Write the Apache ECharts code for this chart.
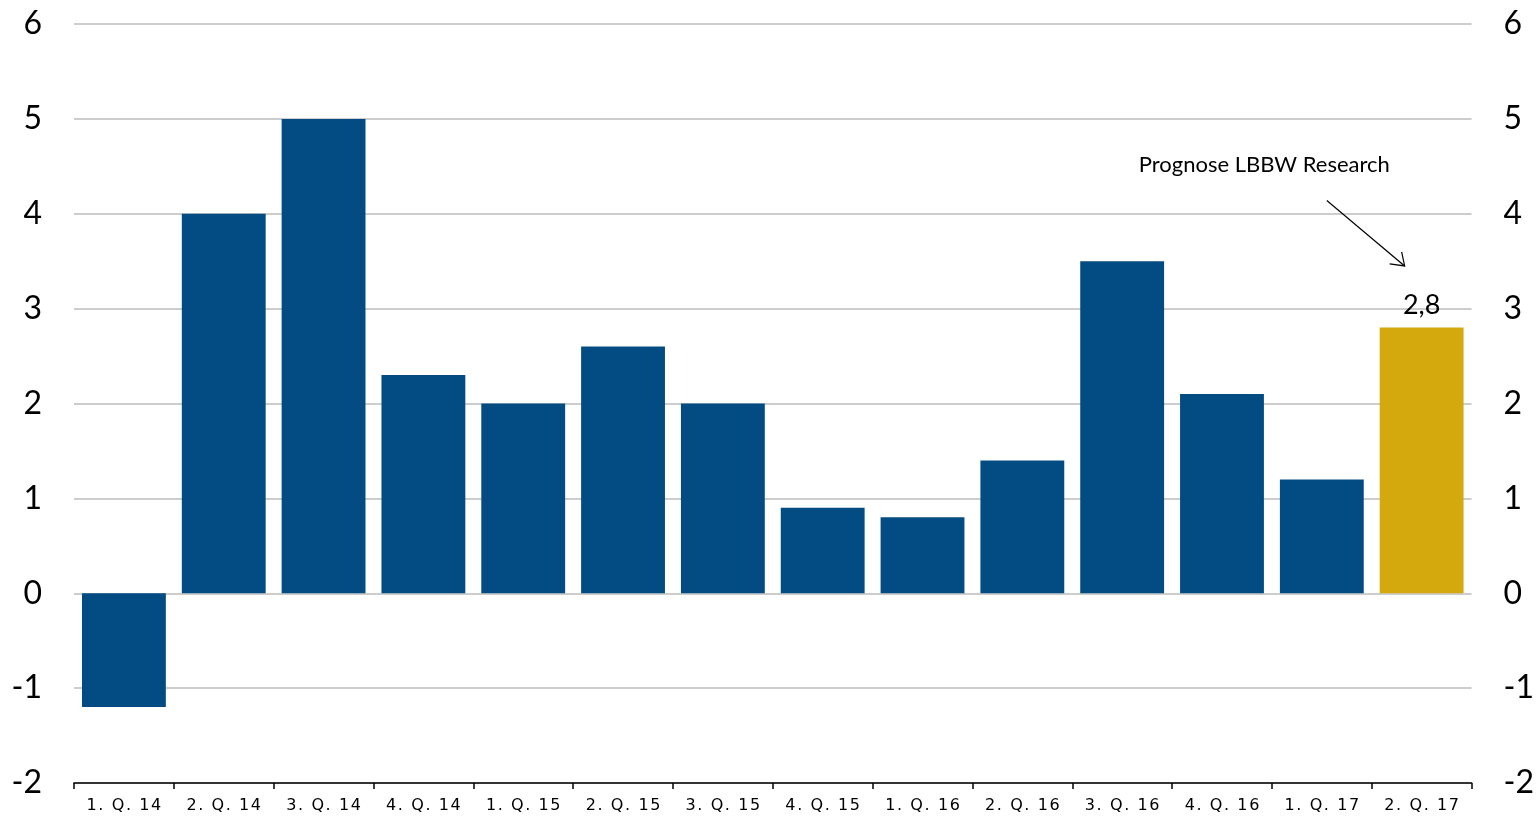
<!DOCTYPE html>
<html>
<head>
<meta charset="utf-8">
<script src="https://cdn.jsdelivr.net/npm/echarts@6/dist/echarts.min.js"></script>
<style>
  html, body { margin: 0; padding: 0; background: #fff; }
  #chart { width: 1537px; height: 819px; }
</style>
</head>
<body>
<div id="chart"></div>
<script>
// Quarterly growth, last quarter is a forecast
const quarters = ['1. Q. 14', '2. Q. 14', '3. Q. 14', '4. Q. 14', '1. Q. 15', '2. Q. 15', '3. Q. 15',
                  '4. Q. 15', '1. Q. 16', '2. Q. 16', '3. Q. 16', '4. Q. 16', '1. Q. 17', '2. Q. 17'];
const growth = [-1.2, 4.0, 5.0, 2.3, 2.0, 2.6, 2.0, 0.9, 0.8, 1.4, 3.5, 2.1, 1.2, 2.8];
const forecastIndex = 13;
const forecastNote = 'Prognose LBBW Research';

const BLUE = '#034c83';
const GOLD = '#d4a90e';

const chart = echarts.init(document.getElementById('chart'));

const yAxisBase = {
  type: 'value', min: -2, max: 6, interval: 1,
  axisLine: { show: false }, axisTick: { show: false },
  splitLine: { lineStyle: { color: '#bdbdbd', width: 1.5 } },
  axisLabel: { fontFamily: 'Lato', fontSize: 32, color: '#000', margin: 32 }
};

chart.setOption({
  animation: false,
  grid: { left: 74, right: 58, top: 24, bottom: 36, containLabel: false },
  xAxis: {
    type: 'category', data: quarters,
    axisLine: { onZero: false, lineStyle: { color: '#000', width: 1.5 } },
    axisTick: { show: true, length: 6, inside: false, lineStyle: { color: '#000', width: 1.5 } },
    axisLabel: {
      fontFamily: 'DejaVu Sans', fontSize: 16, color: '#000', margin: 15,
      formatter: v => v.split('').join('\u200a')
    }
  },
  yAxis: [
    Object.assign({}, yAxisBase, { position: 'left' }),
    Object.assign({}, yAxisBase, { position: 'right', splitLine: { show: false } })
  ],
  series: [{
    type: 'bar',
    barCategoryGap: '16%',
    data: growth.map((v, i) => ({
      value: v,
      itemStyle: { color: i === forecastIndex ? GOLD : BLUE },
      label: i === forecastIndex ? {
        show: true, position: 'top', distance: 9,
        fontFamily: 'Lato', fontSize: 27, color: '#000',
        formatter: p => String(p.value).replace('.', ',')
      } : { show: false }
    }))
  }]
});

// Annotation arrow pointing at the forecast bar
function drawNote() {
  const notePos = chart.convertToPixel({ xAxisIndex: 0, yAxisIndex: 0 }, [forecastIndex - 1, 4.5]);
  const from = chart.convertToPixel({ xAxisIndex: 0, yAxisIndex: 0 }, [forecastIndex - 1, 4.14]);
  const to = chart.convertToPixel({ xAxisIndex: 0, yAxisIndex: 0 }, [forecastIndex, 3.45]);
  chart.setOption({
    graphic: [
      {
        type: 'text', left: notePos[0] - 183, top: notePos[1] - 12,
        style: { text: forecastNote, fontFamily: 'Lato', fontSize: 22, fill: '#000' }
      },
      {
        type: 'line',
        shape: { x1: from[0] + 5, y1: from[1], x2: to[0] - 17, y2: to[1] },
        style: { stroke: '#000', lineWidth: 1.2 }
      },
      {
        type: 'polyline',
        shape: { points: [[to[0] - 32, to[1] - 2], [to[0] - 17, to[1]], [to[0] - 20, to[1] - 14]] },
        style: { stroke: '#000', lineWidth: 1.2, fill: null }
      }
    ]
  });
}
drawNote();
</script>
</body>
</html>
